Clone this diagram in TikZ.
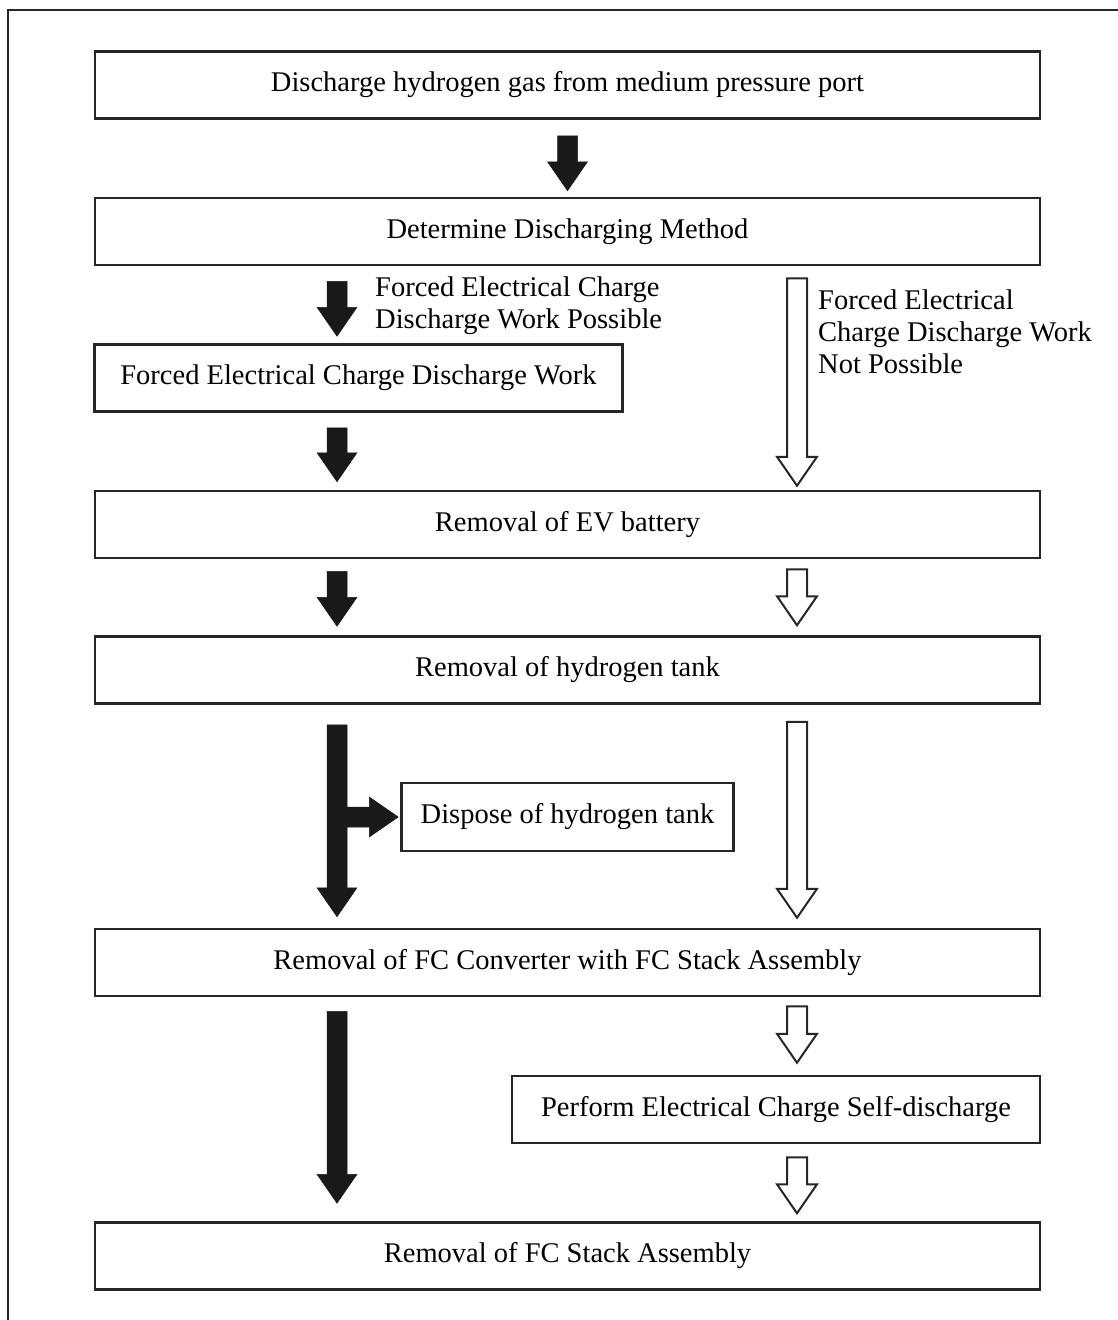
\documentclass[tikz,border=0pt]{standalone}
\usepackage{fontspec}
\setmainfont{Liberation Serif}
\usepackage{tikz}
\usetikzlibrary{calc,positioning}
\tikzstyle{stepbox}=[draw=black!85, line width=2.5pt, fill=white, minimum height=67pt, inner sep=0pt, font=\fontsize{28.5}{32}\selectfont]
\tikzstyle{widebox}=[stepbox, minimum width=945pt]
\tikzstyle{halfbox}=[stepbox, minimum width=528pt]
\tikzstyle{smallbox}=[stepbox, minimum width=332pt, minimum height=68pt]
\tikzstyle{note}=[align=left, inner sep=0pt, anchor=west, font=\fontsize{28.5}{32}\selectfont]
\tikzset{%
    solidarrow/.style={fill=black!90, draw=black!90, line width=0.5pt},
    hollowarrow/.style={fill=white, draw=black!85, line width=2pt, line join=miter},
    frame/.style={draw=black!85, line width=2pt},
  }
% fat arrow from #2 to the tip #3
\newcommand{\blockarrow}[3]{%
  \coordinate (ba-s) at #2;
  \coordinate (ba-t) at #3;
  \coordinate (ba-h) at ($(ba-t)!29pt!(ba-s)$);
  \draw[#1] ($(ba-s)!10pt!90:(ba-t)$) -- ($(ba-h)!10pt!90:(ba-t)$)
    -- ($(ba-h)!20pt!90:(ba-t)$) -- (ba-t) -- ($(ba-h)!20pt!-90:(ba-t)$)
    -- ($(ba-h)!10pt!-90:(ba-t)$) -- ($(ba-s)!10pt!-90:(ba-t)$) -- cycle;
}

\begin{document}
\begin{tikzpicture}[x=1pt, y=-1pt]
    \useasboundingbox (0,0) rectangle (1118,1320);
    \draw[frame] (1118,10) -- (8,10) -- (8,1320);
    \coordinate (lc) at (337,0);
    \coordinate (rc) at (797,0);
    %
    \node (port) [widebox] at (567.5,85) {Discharge hydrogen gas from medium pressure port};
    \node (method) [widebox, below of=port, node distance=146.5pt] {Determine Discharging Method};
    \node (forced) [halfbox, below of=method, node distance=146.5pt, xshift=-209pt] {Forced Electrical Charge Discharge Work};
    \node (battery) [widebox, below of=method, node distance=293pt] {Removal of EV battery};
    \node (tank) [widebox, below of=battery, node distance=145.5pt] {Removal of hydrogen tank};
    \node (dispose) [smallbox, below of=tank, node distance=147pt] {Dispose of hydrogen tank};
    \node (conv) [widebox, below of=tank, node distance=292.5pt] {Removal of FC Converter with FC Stack Assembly};
    \node (selfdis) [halfbox, below of=conv, node distance=147pt, xshift=208.5pt] {Perform Electrical Charge Self-discharge};
    \node (stack) [widebox, below of=conv, node distance=293.5pt] {Removal of FC Stack Assembly};
    %
    \node (yes) [note] at (375,306) {Forced Electrical Charge\\Discharge Work Possible};
    \node (no) [note] at (818,332) {Forced Electrical\\Charge Discharge Work\\Not Possible};
    %
    \blockarrow{solidarrow}{($(port.south)+(0,16)$)}{($(method.north)+(0,-6)$)}
    \blockarrow{solidarrow}{($(method.south -| lc)+(0,15)$)}{($(forced.north -| lc)+(0,-7)$)}
    \blockarrow{solidarrow}{($(forced.south -| lc)+(0,15)$)}{($(battery.north -| lc)+(0,-8)$)}
    \blockarrow{solidarrow}{($(battery.south -| lc)+(0,12)$)}{($(tank.north -| lc)+(0,-9)$)}
    \blockarrow{solidarrow}{($(tank.south -| lc)+(0,20)$)}{($(conv.north -| lc)+(0,-11)$)}
    \blockarrow{solidarrow}{(dispose.west -| lc)}{($(dispose.west)+(-2,0)$)}
    \blockarrow{solidarrow}{($(conv.south -| lc)+(0,14)$)}{($(stack.north -| lc)+(0,-18)$)}
    %
    \blockarrow{hollowarrow}{($(method.south -| rc)+(0,12)$)}{($(battery.north -| rc)+(0,-4)$)}
    \blockarrow{hollowarrow}{($(battery.south -| rc)+(0,10)$)}{($(tank.north -| rc)+(0,-10)$)}
    \blockarrow{hollowarrow}{($(tank.south -| rc)+(0,17)$)}{($(conv.north -| rc)+(0,-10)$)}
    \blockarrow{hollowarrow}{($(conv.south -| rc)+(0,9)$)}{($(selfdis.north -| rc)+(0,-12)$)}
    \blockarrow{hollowarrow}{($(selfdis.south -| rc)+(0,13)$)}{($(stack.north -| rc)+(0,-8)$)}
\end{tikzpicture}
\end{document}
